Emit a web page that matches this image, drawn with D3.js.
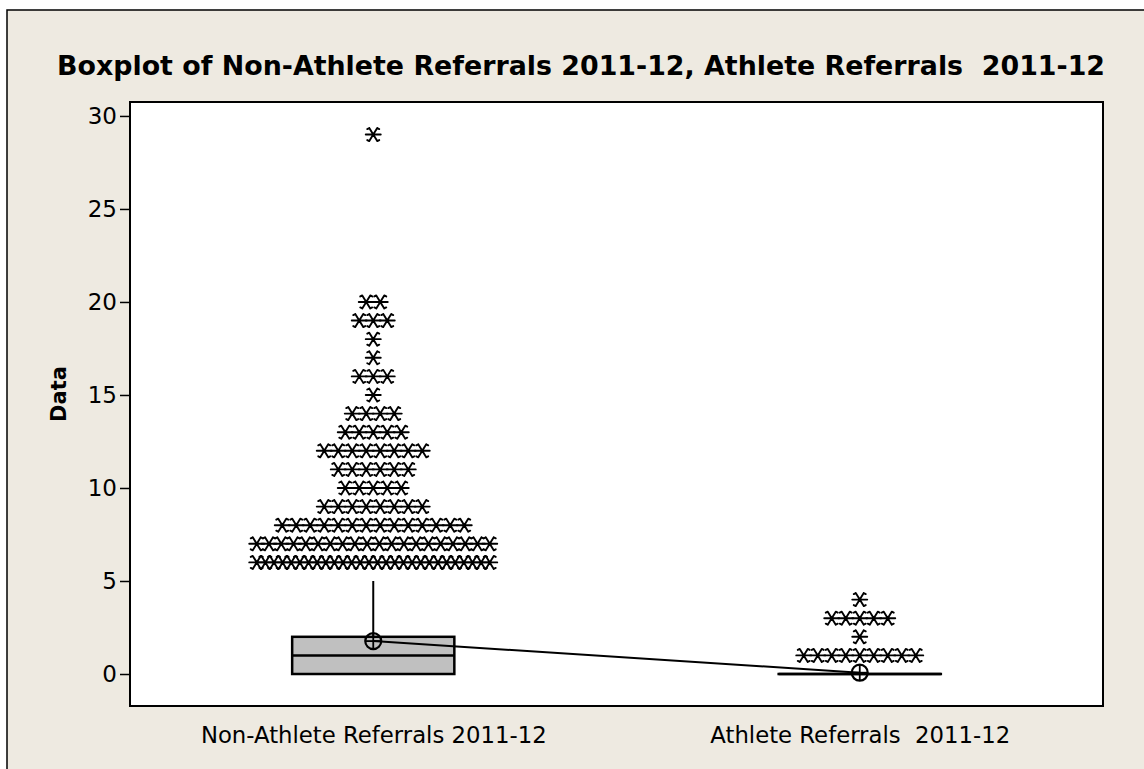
<!DOCTYPE html>
<html>
<head>
<meta charset="utf-8">
<script src="https://cdn.jsdelivr.net/npm/d3@7"></script>
<style>
  html, body { margin: 0; padding: 0; background: #ffffff; }
  svg { display: block; }
</style>
</head>
<body>
<svg id="chart" width="1144" height="769"></svg>
<script>
// ---- data ----
const categories = ["Non-Athlete Referrals 2011-12", "Athlete Referrals  2011-12"];
const q1 = [0, 0];
const medians = [1, 0];
const q3 = [2, 0];
const whiskerLow = [0, 0];
const whiskerHigh = [5, 0];
const means = [1.77, 0.07];
const outlierValuesNonAthlete = [6, 7, 8, 9, 10, 11, 12, 13, 14, 15, 16, 17, 18, 19, 20, 29];
const outlierCountsNonAthlete = [28, 20, 14, 8, 5, 6, 8, 5, 4, 1, 3, 1, 1, 3, 2, 1];
const outlierValuesAthlete = [1, 2, 3, 4];
const outlierCountsAthlete = [9, 1, 5, 1];
const yTicks = [0, 5, 10, 15, 20, 25, 30];
const titleText = "Boxplot of Non-Athlete Referrals 2011-12, Athlete Referrals  2011-12";
const yLabel = "Data";

// ---- layout ----
const svg = d3.select("#chart");
const plot = { left: 130, right: 1103, top: 102, bottom: 706 };
const FONT = "'DejaVu Sans', Verdana, sans-serif";

svg.append("rect")
  .attr("x", 7).attr("y", 10).attr("width", 1150).attr("height", 770)
  .attr("fill", "#EEEAE1").attr("stroke", "#000").attr("stroke-width", 1.5);

svg.append("rect")
  .attr("x", plot.left).attr("y", plot.top)
  .attr("width", plot.right - plot.left).attr("height", plot.bottom - plot.top)
  .attr("fill", "#ffffff");

const x = d3.scalePoint().domain(categories).range([plot.left, plot.right]).padding(0.5);
const y = d3.scaleLinear().domain([-1.72, 30.75]).range([plot.bottom, plot.top]);
const boxW = x.step() / 3;

// y axis
const yAxis = d3.axisLeft(y).tickValues(yTicks).tickSize(10).tickPadding(3);
const gy = svg.append("g").attr("transform", `translate(${plot.left},0)`).call(yAxis);
gy.select(".domain").remove();
gy.selectAll(".tick line").attr("stroke", "#000").attr("stroke-width", 1.5);
gy.selectAll(".tick text").attr("font-family", FONT).attr("font-size", 23).attr("fill", "#000");

// x axis (labels only)
const xAxis = d3.axisBottom(x).tickSize(0).tickPadding(0);
const gx = svg.append("g").attr("transform", `translate(0,${plot.bottom})`).call(xAxis);
gx.select(".domain").remove();
gx.selectAll(".tick text")
  .attr("font-family", FONT).attr("font-size", 22).attr("fill", "#000")
  .attr("dy", null).attr("y", 37).style("white-space", "pre");

// fit x labels: athlete label should span ~300px
(function fitX() {
  const nodes = gx.selectAll(".tick text").nodes();
  const w = nodes[1].getComputedTextLength();
  const fs = 22 * 300 / w;
  gx.selectAll(".tick text").attr("font-size", fs);
})();

// boxes
const cats = categories.map((c, i) => ({
  c, q1: q1[i], med: medians[i], q3: q3[i], lo: whiskerLow[i], hi: whiskerHigh[i], mean: means[i]
}));

const g = svg.append("g");
// whiskers
g.selectAll(".whisk-hi").data(cats.filter(d => d.hi > d.q3)).join("line")
  .attr("x1", d => x(d.c)).attr("x2", d => x(d.c))
  .attr("y1", d => y(d.q3)).attr("y2", d => y(d.hi))
  .attr("stroke", "#000").attr("stroke-width", 2);
g.selectAll(".whisk-lo").data(cats.filter(d => d.lo < d.q1)).join("line")
  .attr("x1", d => x(d.c)).attr("x2", d => x(d.c))
  .attr("y1", d => y(d.q1)).attr("y2", d => y(d.lo))
  .attr("stroke", "#000").attr("stroke-width", 2);

g.selectAll(".box").data(cats).join("rect")
  .attr("x", d => x(d.c) - boxW / 2).attr("width", boxW)
  .attr("y", d => y(d.q3)).attr("height", d => Math.max(0.01, y(d.q1) - y(d.q3)))
  .attr("fill", "#C0C0C0").attr("stroke", "#000").attr("stroke-width", 2.5);

g.selectAll(".med").data(cats).join("line")
  .attr("x1", d => x(d.c) - boxW / 2).attr("x2", d => x(d.c) + boxW / 2)
  .attr("y1", d => y(d.med)).attr("y2", d => y(d.med))
  .attr("stroke", "#000").attr("stroke-width", 2.5);

// mean connect line
g.append("path")
  .attr("d", d3.line().x(d => x(d.c)).y(d => y(d.mean))(cats))
  .attr("fill", "none").attr("stroke", "#000").attr("stroke-width", 2);

// mean symbols
const r = 8;
const ms = g.selectAll(".mean").data(cats).join("g")
  .attr("transform", d => `translate(${x(d.c)},${y(d.mean)})`);
ms.append("circle").attr("r", r).attr("fill", "none").attr("stroke", "#000").attr("stroke-width", 2.2);
ms.append("line").attr("x1", -r).attr("x2", r).attr("stroke", "#000").attr("stroke-width", 1.8);
ms.append("line").attr("y1", -r).attr("y2", r).attr("stroke", "#000").attr("stroke-width", 1.8);

// outliers (asterisks), identical values placed side by side
const outliers = [];
function addOutliers(cat, vals, counts) {
  vals.forEach((v, i) => {
    const n = counts[i];
    const sp = n > 1 ? Math.min(14, 233 / (n - 1)) : 0;
    for (let k = 0; k < n; k++) outliers.push({ c: cat, v, off: (k - (n - 1) / 2) * sp });
  });
}
addOutliers(categories[0], outlierValuesNonAthlete, outlierCountsNonAthlete);
addOutliers(categories[1], outlierValuesAthlete, outlierCountsAthlete);

const star = "M-7.5,0L7.5,0M-4,-6.5L4,6.5M4,-6.5L-4,6.5M-4,-6.5L-6,-5.5M4,-6.5L6,-5.5M-4,6.5L-6,5.5M4,6.5L6,5.5";
g.selectAll(".out").data(outliers).join("path")
  .attr("transform", d => `translate(${x(d.c) + d.off},${y(d.v)})`)
  .attr("d", star)
  .attr("fill", "none").attr("stroke", "#000").attr("stroke-width", 1.9)
  .attr("stroke-linecap", "round").attr("stroke-linejoin", "round");

// plot border
svg.append("rect")
  .attr("x", plot.left).attr("y", plot.top)
  .attr("width", plot.right - plot.left).attr("height", plot.bottom - plot.top)
  .attr("fill", "none").attr("stroke", "#000").attr("stroke-width", 2);

// title
svg.append("text")
  .attr("x", 57).attr("y", 75)
  .attr("font-family", FONT).attr("font-weight", "bold").attr("font-size", 26)
  .attr("textLength", 1048).attr("lengthAdjust", "spacingAndGlyphs")
  .attr("fill", "#000").style("white-space", "pre").text(titleText);

// y label
svg.append("text")
  .attr("transform", `translate(66,394) rotate(-90)`)
  .attr("text-anchor", "middle")
  .attr("font-family", FONT).attr("font-weight", "bold").attr("font-size", 21)
  .attr("fill", "#000").text(yLabel);
</script>
</body>
</html>
